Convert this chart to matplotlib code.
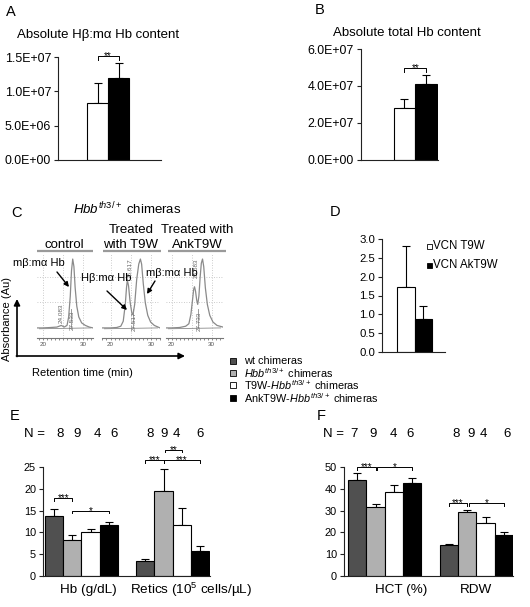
import matplotlib
matplotlib.use('Agg')
import matplotlib.pyplot as plt
from matplotlib.patches import Rectangle
from matplotlib.ticker import FuncFormatter, MultipleLocator

plt.rcParams['font.family'] = ['Liberation Sans', 'DejaVu Sans']
plt.rcParams['mathtext.fontset'] = 'custom'
plt.rcParams['mathtext.rm'] = 'Liberation Sans'
plt.rcParams['mathtext.it'] = 'Liberation Sans:italic'
plt.rcParams['mathtext.bf'] = 'Liberation Sans:bold'

W, H = 530, 607

# ---------------- data ----------------
a_means = [8.28e6, 1.197e7]
a_err = [2.9e6, 2.1e6]
b_means = [2.8e7, 4.12e7]
b_err = [0.49e7, 0.49e7]
d_labels = ['VCN T9W', 'VCN AkT9W']
d_means = [1.72, 0.87]
d_err = [1.09, 0.34]

group_labels = ['wt chimeras',
                r'$\mathit{Hbb}^{\mathit{th3/+}}$ chimeras',
                r'T9W-$\mathit{Hbb}^{\mathit{th3/+}}$ chimeras',
                r'AnkT9W-$\mathit{Hbb}^{\mathit{th3/+}}$ chimeras']
group_colors = ['#505050', '#b0b0b0', '#ffffff', '#000000']

e_cats = ['Hb (g/dL)', 'Retics (10$^5$ cells/µL)']
hb_means = [13.8, 8.3, 10.0, 11.8]
hb_err = [1.5, 1.1, 0.7, 0.7]
retic_means = [3.5, 19.6, 11.8, 5.8]
retic_err = [0.3, 4.9, 3.7, 1.1]
e_n = [[8, 9, 4, 6], [8, 9, 4, 6]]
e_sig = [(0, 1, 17.8, '***'), (1, 3, 15.0, '*'),
         (5, 6, 26.5, '***'), (6, 7, 29.0, '**'), (6, 8, 26.5, '***')]

f_cats = ['HCT (%)', 'RDW']
hct_means = [44.2, 31.5, 38.5, 42.6]
hct_err = [3.0, 1.6, 3.3, 2.3]
rdw_means = [14.2, 29.5, 24.5, 18.8]
rdw_err = [0.7, 0.8, 2.7, 1.5]
f_n = [[7, 9, 4, 6], [8, 9, 4, 6]]
f_sig = [(0, 1, 50.0, '***'), (1, 3, 50.0, '*'),
         (5, 6, 33.4, '***'), (6, 8, 33.4, '*')]

# chromatogram traces (retention time, absorbance)
ctrl_t = [18.6, 20, 22, 23.5, 24.6, 25.3, 26.0, 26.4, 26.8, 27.1, 27.4, 27.7, 28.0,
          28.4, 28.9, 29.6, 30.5, 31.5, 32.4]
ctrl_a = [0.12, 0.12, 0.125, 0.13, 0.15, 0.13, 0.15, 0.25, 0.5, 0.8, 0.94, 0.85, 0.6,
          0.38, 0.25, 0.18, 0.15, 0.13, 0.12]
t9w_t = [17.9, 20, 21.5, 22.5, 23.1, 23.6, 23.9, 24.1, 24.4, 24.8, 25.2, 25.5, 25.9,
         26.4, 26.9, 27.3, 27.6, 28.0, 28.5, 29.1, 29.8, 30.7, 32.1]
t9w_a = [0.12, 0.12, 0.125, 0.14, 0.2, 0.4, 0.6, 0.69, 0.62, 0.42, 0.3, 0.28, 0.4,
         0.7, 0.88, 0.94, 0.88, 0.65, 0.42, 0.27, 0.19, 0.15, 0.12]
ank_t = [18.6, 20, 22, 23.5, 24.3, 24.8, 25.2, 25.5, 25.7, 25.95, 26.25, 26.5, 26.8,
         27.1, 27.4, 27.7, 28.0, 28.4, 28.9, 29.5, 30.3, 31.3, 32.8]
ank_a = [0.12, 0.12, 0.125, 0.14, 0.17, 0.28, 0.45, 0.58, 0.61, 0.56, 0.45, 0.40, 0.5,
         0.72, 0.89, 0.94, 0.85, 0.6, 0.4, 0.27, 0.19, 0.15, 0.13]

fig = plt.figure(figsize=(W / 100, H / 100), dpi=100)
fig.patch.set_facecolor('white')


def axes_px(l, t, r, b, **kw):
    return fig.add_axes([l / W, 1 - b / H, (r - l) / W, (b - t) / H], **kw)


def style(ax, fs):
    for s in ['top', 'right']:
        ax.spines[s].set_visible(False)
    for s in ['left', 'bottom']:
        ax.spines[s].set_linewidth(0.8)
        ax.spines[s].set_color('#222222')
    ax.tick_params(axis='y', direction='out', length=3, width=0.8,
                   labelsize=fs, pad=2, color='#222222')
    ax.tick_params(axis='x', length=0, labelbottom=False)
    ax.set_facecolor('none')


def bars(ax, xs, means, errs, colors):
    ax.bar(xs, means, width=1.0, color=colors, edgecolor='black', linewidth=0.8, zorder=2)
    ax.errorbar(xs, means, yerr=[[0] * len(errs), errs], fmt='none', ecolor='black',
                elinewidth=0.8, capsize=3.2, capthick=0.8, zorder=1)


def bracket(ax, x1, x2, y, h, text, fs=7):
    ax.plot([x1, x1, x2, x2], [y - h, y, y, y - h], color='black', lw=0.7,
            clip_on=False, zorder=3)
    ax.annotate(text, xy=((x1 + x2) / 2, y), xytext=(0, -2.2),
                textcoords='offset points', ha='center', va='baseline',
                fontsize=fs, annotation_clip=False)


# ---------------- Panel A ----------------
axA = axes_px(58, 57, 161, 160)
bars(axA, [0, 1], a_means, a_err, ['white', 'black'])
axA.set_xlim(-1.88, 3.02)
axA.set_ylim(0, 1.5e7)
axA.set_yticks([0, 5e6, 1e7, 1.5e7])
axA.yaxis.set_major_formatter(FuncFormatter(lambda v, p: '{:.1E}'.format(v)))
style(axA, 8.9)
bracket(axA, 0, 1, 1.52e7, 0.06e7, '**')

# ---------------- Panel B ----------------
axB = axes_px(361, 49, 438, 160)
bars(axB, [0, 1], b_means, b_err, ['white', 'black'])
axB.set_xlim(-2.0, 1.55)
axB.set_ylim(0, 6e7)
axB.set_yticks([0, 2e7, 4e7, 6e7])
axB.yaxis.set_major_formatter(FuncFormatter(lambda v, p: '{:.1E}'.format(v)))
style(axB, 8.9)
bracket(axB, 0, 1, 4.97e7, 0.2e7, '**')

# ---------------- Panel D ----------------
axD = axes_px(382, 239, 445, 352)
bars(axD, [0, 1], d_means, d_err, ['white', 'black'])
axD.set_xlim(-1.36, 2.24)
axD.set_ylim(0, 3.0)
axD.yaxis.set_major_locator(MultipleLocator(0.5))
axD.yaxis.set_major_formatter(FuncFormatter(lambda v, p: '{:.1f}'.format(v)))
style(axD, 8.2)

# ---------------- Panel E ----------------
axE = axes_px(43, 467, 210, 576)
xs1 = [0, 1, 2, 3]
xs2 = [5, 6, 7, 8]
bars(axE, xs1, hb_means, hb_err, group_colors)
bars(axE, xs2, retic_means, retic_err, group_colors)
axE.set_xlim(-0.61, 8.55)
axE.set_ylim(0, 25)
axE.yaxis.set_major_locator(MultipleLocator(5))
style(axE, 7.8)
for i, (x1, x2, y, s) in enumerate(e_sig):
    off = 0.1 if (i > 0 and e_sig[i - 1][1] == x1 and e_sig[i - 1][2] == y) or s == '**' else 0
    bracket(axE, x1 + off, x2, y, 0.6, s)

# ---------------- Panel F ----------------
axF = axes_px(344, 467, 513, 576)
bars(axF, xs1, hct_means, hct_err, group_colors)
bars(axF, xs2, rdw_means, rdw_err, group_colors)
axF.set_xlim(-0.72, 8.5)
axF.set_ylim(0, 50)
axF.yaxis.set_major_locator(MultipleLocator(10))
style(axF, 7.9)
for i, (x1, x2, y, s) in enumerate(f_sig):
    off = 0.1 if (i > 0 and f_sig[i - 1][1] == x1 and f_sig[i - 1][2] == y) else 0
    bracket(axF, x1 + off, x2, y, 1.2, s)

# ---------------- Panel C chromatograms ----------------
chrom = [
    ((37, 93), (18.6, 32.4), ctrl_t, ctrl_a,
     [(24.6, '24.083', 0.30), (27.2, '27.533', 0.21)], [27.0]),
    ((102, 160), (17.9, 32.1), t9w_t, t9w_a,
     [(24.8, '25.617', 0.83), (25.9, '27.517', 0.2)], [25.4]),
    ((166, 223), (18.6, 32.8), ank_t, ank_a,
     [(26.1, '25.583', 0.83), (26.9, '27.733', 0.2)], [26.5]),
]
for (l, r), xl, tt, aa, labs, drops in chrom:
    ax = axes_px(l, 254, r, 338)
    ax.set_xlim(*xl)
    ax.set_ylim(0, 1)
    ax.set_facecolor('none')
    for s in ['top', 'right', 'left']:
        ax.spines[s].set_visible(False)
    ax.spines['bottom'].set_color('#777777')
    ax.spines['bottom'].set_linewidth(0.8)
    ax.set_yticks([])
    ax.set_xticks([20, 30])
    ax.xaxis.set_minor_locator(MultipleLocator(1))
    ax.tick_params(axis='x', which='both', length=1.5, width=0.6, color='#777777',
                   labelsize=4.5, labelcolor='#555555', pad=1.5)
    for gx in [20, 25, 30]:
        ax.axvline(gx, color='#bbbbbb', lw=0.6, ls=(0, (1, 2)), zorder=0)
    for gy in [0.43, 0.73]:
        ax.axhline(gy, color='#bbbbbb', lw=0.6, ls=(0, (1, 2)), zorder=0)
    ax.plot(tt, aa, color='#8a8a8a', lw=0.9, zorder=2)
    ax.plot([tt[0] + 0.6, tt[-1] - 0.6], [0.11, 0.12], color='#8a8a8a', lw=0.6, zorder=2)
    for dx in drops:
        ax.plot([dx, dx], [0.12, 0.35], color='#8a8a8a', lw=0.6)
    for lx, txt, ly in labs:
        ax.text(lx, ly, txt, rotation=90, fontsize=4.6, color='#666666',
                ha='center', va='center')

# ---------------- overlay for free texts ----------------
ov = fig.add_axes([0, 0, 1, 1], zorder=10)
ov.set_xlim(0, W)
ov.set_ylim(H, 0)
ov.axis('off')
ov.patch.set_alpha(0)

# panel letters
for x, y, s in [(10.5, 12, 'A'), (320, 9.5, 'B'), (17, 213, 'C'), (335, 212, 'D'),
                (15, 416, 'E'), (321, 416, 'F')]:
    ov.text(x, y, s, fontsize=10.5, ha='center', va='center')

ov.text(98, 35, 'Absolute Hβ:mα Hb content', fontsize=9.5, ha='center', va='center')
ov.text(407, 33, 'Absolute total Hb content', fontsize=9.5, ha='center', va='center')

# panel C texts
ov.text(127, 209, r'$\mathit{Hbb}^{\mathit{th3/+}}$ chimeras', fontsize=9.5,
        ha='center', va='center')
ov.text(64, 245, 'control', fontsize=9.5, ha='center', va='center')
ov.text(131, 230, 'Treated', fontsize=9.5, ha='center', va='center')
ov.text(131, 245, 'with T9W', fontsize=9.5, ha='center', va='center')
ov.text(197, 230, 'Treated with', fontsize=9.5, ha='center', va='center')
ov.text(197, 245, 'AnkT9W', fontsize=9.5, ha='center', va='center')
for x1, x2 in [(37, 93), (103, 161), (168, 226)]:
    ov.plot([x1, x2], [251, 251], color='#9a9a9a', lw=1.6, solid_capstyle='butt')

ov.text(39, 263, 'mβ:mα Hb', fontsize=8, ha='center', va='center')
ov.text(106, 278, 'Hβ:mα Hb', fontsize=8, ha='center', va='center')
ov.text(172, 273, 'mβ:mα Hb', fontsize=8, ha='center', va='center')
arrow_kw = dict(arrowstyle='-|>', lw=1.0, color='black', mutation_scale=7,
                shrinkA=0, shrinkB=0)
ov.annotate('', xy=(69, 287), xytext=(57, 272), arrowprops=arrow_kw)
ov.annotate('', xy=(127, 310), xytext=(107, 291), arrowprops=arrow_kw)
ov.annotate('', xy=(147, 294), xytext=(155, 281), arrowprops=arrow_kw)

big_kw = dict(arrowstyle='-|>', lw=1.2, color='black', mutation_scale=9,
              shrinkA=0, shrinkB=0)
ov.annotate('', xy=(17, 299), xytext=(17, 356.5), arrowprops=big_kw)
ov.annotate('', xy=(185, 356), xytext=(16.4, 356), arrowprops=big_kw)
ov.text(7, 319, 'Absorbance (Au)', fontsize=8, rotation=90, ha='center', va='center')
ov.text(82, 373, 'Retention time (min)', fontsize=8, ha='center', va='center')

# legend for E/F
for (y, lab, c) in zip([361, 373, 385, 398], group_labels, group_colors):
    ov.add_patch(Rectangle((229.5, y - 3), 6, 6, facecolor=c, edgecolor='black', lw=0.6))
    ov.text(244, y, lab, fontsize=7.8, ha='left', va='center')

# legend for D
for (y, lab, c) in zip([246, 265], d_labels, ['white', 'black']):
    ov.add_patch(Rectangle((427, y - 2.5), 5, 5, facecolor=c, edgecolor='black', lw=0.6))
    ov.text(433, y, lab, fontsize=8.3, ha='left', va='center')

# N rows
ov.text(24, 434, 'N =', fontsize=9.5, ha='left', va='center')
for x, n in zip([60, 77, 97, 114, 150, 164, 176, 200], e_n[0] + e_n[1]):
    ov.text(x, 434, str(n), fontsize=9.5, ha='center', va='center')
ov.text(323, 434, 'N =', fontsize=9.5, ha='left', va='center')
for x, n in zip([354, 373, 393, 410, 456, 471, 483, 507], f_n[0] + f_n[1]):
    ov.text(x, 434, str(n), fontsize=9.5, ha='center', va='center')

# category labels
for x, lab in zip([88, 191], e_cats):
    ov.text(x, 590, lab, fontsize=9.7, ha='center', va='center')
for x, lab in zip([401, 476], f_cats):
    ov.text(x, 590, lab, fontsize=9.7, ha='center', va='center')

fig.savefig('out.png', dpi=100, facecolor='white')
